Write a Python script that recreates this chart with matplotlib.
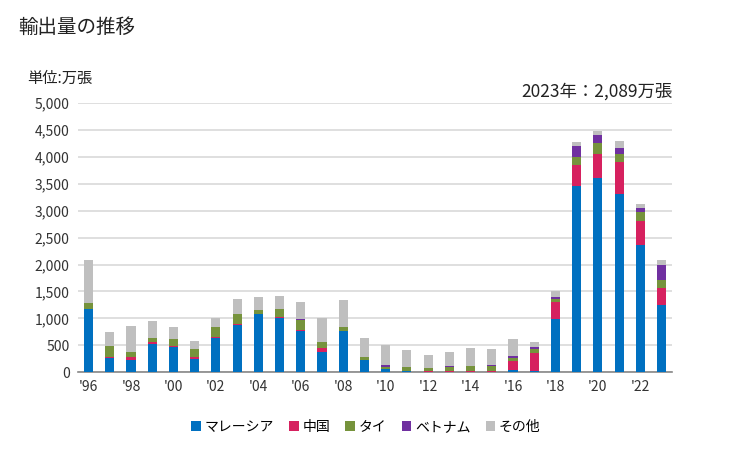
import matplotlib.pyplot as plt
import numpy as np

plt.rcParams['font.family'] = ['Noto Sans CJK JP', 'DejaVu Sans']

years = list(range(1996, 2024))
malaysia = [1170, 270, 230, 530, 465, 240, 640, 875, 1080, 1010, 760, 380, 760, 225,
            55, 20, 0, 5, 10, 10, 40, 15, 980, 3460, 3605, 3310, 2360, 1240]
china = [0, 12, 45, 30, 30, 45, 12, 25, 5, 18, 25, 75, 0, 0,
         10, 0, 20, 20, 15, 15, 165, 340, 320, 390, 445, 595, 445, 330]
thai = [120, 200, 95, 70, 120, 140, 185, 180, 75, 145, 180, 105, 75, 55,
        30, 75, 55, 70, 85, 85, 55, 75, 55, 150, 205, 150, 165, 150]
vietnam = [0, 0, 0, 0, 0, 0, 0, 0, 0, 0, 18, 0, 0, 0,
           35, 0, 0, 18, 0, 18, 37, 37, 37, 205, 150, 110, 75, 265]
other = [800, 260, 485, 315, 220, 150, 170, 280, 240, 240, 315, 445, 500, 350,
         370, 315, 240, 260, 335, 300, 315, 93, 110, 75, 75, 130, 75, 100]

series = [
    ("マレーシア", malaysia, "#0070C0"),
    ("中国", china, "#D6215F"),
    ("タイ", thai, "#76933C"),
    ("ベトナム", vietnam, "#7030A0"),
    ("その他", other, "#BFBFBF"),
]

fig = plt.figure(figsize=(7.29, 4.5), dpi=100)
ax = fig.add_axes([0.107, 0.173, 0.815, 0.598])

x = np.arange(len(years))
bottom = np.zeros(len(years))
for name, vals, color in series:
    ax.bar(x, vals, width=0.43, bottom=bottom, color=color, label=name, zorder=3)
    bottom += np.array(vals)

ax.set_xlim(-0.5, len(years) - 0.5)
ax.set_ylim(0, 5000)
ax.set_yticks(range(0, 5001, 500))
ax.set_yticklabels([f"{v:,}" for v in range(0, 5001, 500)], fontsize=10, color="#333333")
ax.set_xticks(x[::2])
ax.set_xticklabels([f"'{str(y)[2:]}" for y in years[::2]], fontsize=10, color="#333333")
ax.tick_params(length=0, pad=6)
ax.grid(axis="y", color="#D9D9D9", linewidth=1.2, zorder=0)
for s in ["top", "right", "left"]:
    ax.spines[s].set_visible(False)
ax.spines["bottom"].set_color("#888888")
ax.spines["bottom"].set_linewidth(1.2)

fig.text(0.025, 0.938, "輸出量の推移", fontsize=14, va="center", color="#222222")
fig.text(0.037, 0.826, "単位:万張", fontsize=11, va="center", color="#222222")
fig.text(0.922, 0.796, "2023年：2,089万張", fontsize=12.5, va="center", ha="right", color="#222222")

fig.legend(loc="center", bbox_to_anchor=(0.502, 0.052), ncol=5, frameon=False,
           fontsize=10, handlelength=0.7, handleheight=0.7, handletextpad=0.25,
           columnspacing=1.1)

fig.savefig("out.png", dpi=100)
